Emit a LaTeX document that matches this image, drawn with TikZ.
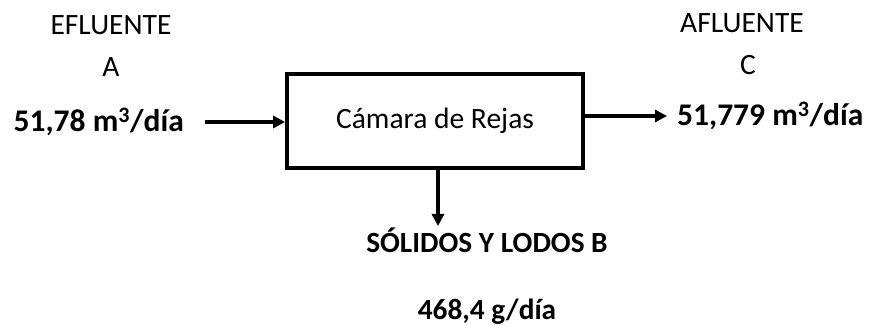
\documentclass[tikz,border=0pt]{standalone}
\usepackage{fontspec}
\setmainfont{Carlito}
\usetikzlibrary{arrows.meta}
\begin{document}
\begin{tikzpicture}[x=1pt,y=-1pt,
  lbl/.style={font=\fontsize{29.5}{34}\selectfont, inner sep=0pt},
  blbl/.style={font=\fontsize{31.5}{36}\selectfont\bfseries, inner sep=0pt},
  sblbl/.style={font=\fontsize{29.3}{34}\selectfont\bfseries, inner sep=0pt},
  flow/.style={line width=3.8pt, -{Triangle[length=12pt,width=12pt]}}]
\useasboundingbox (0,0) rectangle (879,326);
\node[draw, line width=3.8pt, minimum width=296pt, minimum height=94pt, inner sep=0pt,
  font=\fontsize{29.5}{34}\selectfont] (box) at (435,121) {Cámara de Rejas};
\node[lbl] (ef) at (111,25) {EFLUENTE};
\node[lbl] (a) at (111,67) {A};
\node[blbl, anchor=east] (qa) at (184,122) {51,78 m\textsuperscript{3}/día};
\node[lbl] (af) at (742,23) {AFLUENTE};
\node[lbl] (c) at (748,65) {C};
\node[blbl, anchor=west] (qc) at (677,116) {51,779 m\textsuperscript{3}/día};
\node[sblbl] (b) at (487,240) {SÓLIDOS Y LODOS B};
\node[sblbl] (qb) at (487,312) {468,4 g/día};
\coordinate (ain) at (205,122);
\coordinate (cout) at (667,116);
\coordinate (bout) at (438,226);
\draw[flow] (ain) -- (ain -| box.west);
\draw[flow] (box.east |- cout) -- (cout);
\draw[flow] (bout |- box.south) -- (bout);
\end{tikzpicture}
\end{document}
